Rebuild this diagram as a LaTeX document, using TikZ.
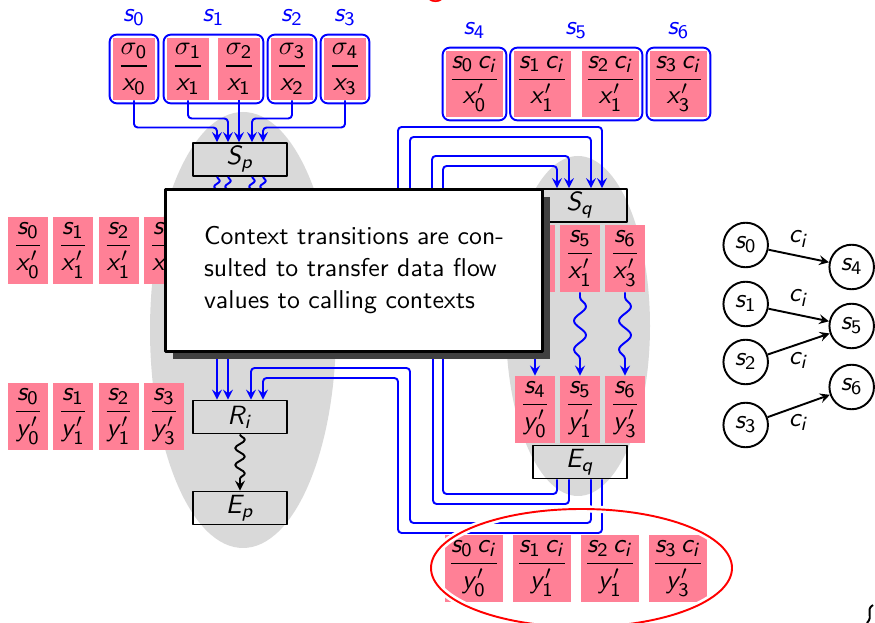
\documentclass[tikz,border=0pt]{standalone}
\usepackage{amsmath}
\usetikzlibrary{calc,fit,decorations.pathmorphing,shadows}
% sans serif math letters and digits, as on the slides
\DeclareSymbolFont{sfit}{OT1}{cmss}{m}{sl}
\DeclareSymbolFont{sfup}{OT1}{cmss}{m}{n}
\DeclareMathSymbol{c}{\mathalpha}{sfit}{`c}
\DeclareMathSymbol{i}{\mathalpha}{sfit}{`i}
\DeclareMathSymbol{p}{\mathalpha}{sfit}{`p}
\DeclareMathSymbol{q}{\mathalpha}{sfit}{`q}
\DeclareMathSymbol{s}{\mathalpha}{sfit}{`s}
\DeclareMathSymbol{x}{\mathalpha}{sfit}{`x}
\DeclareMathSymbol{y}{\mathalpha}{sfit}{`y}
\DeclareMathSymbol{E}{\mathalpha}{sfit}{`E}
\DeclareMathSymbol{R}{\mathalpha}{sfit}{`R}
\DeclareMathSymbol{S}{\mathalpha}{sfit}{`S}
\DeclareMathSymbol{0}{\mathalpha}{sfup}{`0}
\DeclareMathSymbol{1}{\mathalpha}{sfup}{`1}
\DeclareMathSymbol{2}{\mathalpha}{sfup}{`2}
\DeclareMathSymbol{3}{\mathalpha}{sfup}{`3}
\DeclareMathSymbol{4}{\mathalpha}{sfup}{`4}
\DeclareMathSymbol{5}{\mathalpha}{sfup}{`5}
\DeclareMathSymbol{6}{\mathalpha}{sfup}{`6}
\definecolor{cellpink}{RGB}{255,128,150}
\definecolor{procgray}{gray}{0.85}
\newdimen\px \px=0.4153pt
\tikzset{
  every picture/.style={line join=round, >=stealth},
  cell/.style={fill=cellpink, inner sep=0pt, minimum width=40\px, minimum height=67\px},
  tl/.style={minimum width=42\px, minimum height=62\px},
  wide/.style={minimum width=57\px, minimum height=66\px},
  grp/.style={draw=blue, line width=0.8pt, rounded corners=3pt, inner sep=1.2pt},
  lbl/.style={blue},
  wire/.style={draw=blue, thick, ->, rounded corners=1.5pt},
  squig/.style={draw=blue, thick, decorate, decoration={snake, amplitude=1.2pt, segment length=5pt}},
  blk/.style={draw, thick, minimum width=94\px, minimum height=33\px, inner sep=0pt},
  ovl/.style={draw, line width=1.2pt, fill=white, minimum width=377\px, minimum height=162\px,
    align=left, font=\sffamily\fontsize{10.7}{13.3}\selectfont,
    drop shadow={shadow xshift=3pt, shadow yshift=-3pt, fill=black!75, opacity=1}},
  st/.style={circle, draw, thick, minimum size=18.5pt, inner sep=0pt},
}
\begin{document}
\begin{tikzpicture}[x=0.4153pt,y=-0.4153pt,font=\sffamily\fontsize{11}{13}\selectfont]
\useasboundingbox (0,0) rectangle (875,623);
% procedures p and q
\fill[procgray] (243,330) ellipse [x radius=93, y radius=218];
\fill[procgray] (578,326) ellipse [x radius=72, y radius=170];
\node[red, font=\sffamily\fontsize{14.4}{17}\selectfont, anchor=base, inner sep=0pt] (ttl) at (436,-4) {g};

% values at entry of p
\node[cell,tl] (a0) at (134,69) {$\dfrac{\sigma_0}{x_0}$};
\node[cell,tl] (a1) at (188,69) {$\dfrac{\sigma_1}{x_1}$};
\node[cell,tl] (a2) at (239,69) {$\dfrac{\sigma_2}{x_1}$};
\node[cell,tl] (a3) at (292,69) {$\dfrac{\sigma_3}{x_2}$};
\node[cell,tl] (a4) at (345,69) {$\dfrac{\sigma_4}{x_3}$};
\node[grp, fit=(a0), label={[lbl]above:$s_0$}] (g0) {};
\node[grp, fit=(a1)(a2), label={[lbl]above:$s_1$}] (g1) {};
\node[grp, fit=(a3), label={[lbl]above:$s_2$}] (g2) {};
\node[grp, fit=(a4), label={[lbl]above:$s_3$}] (g3) {};

% values at entry of q
\node[cell,wide] (b0) at (474.5,84) {$\dfrac{s_0\,c_i}{x'_0}$};
\node[cell,wide] (b1) at (542,84) {$\dfrac{s_1\,c_i}{x'_1}$};
\node[cell,wide] (b2) at (610.5,84) {$\dfrac{s_2\,c_i}{x'_1}$};
\node[cell,wide] (b3) at (678.5,84) {$\dfrac{s_3\,c_i}{x'_3}$};
\node[grp, fit=(b0), label={[lbl]above:$s_4$}] (g4) {};
\node[grp, fit=(b1)(b2), label={[lbl]above:$s_5$}] (g5) {};
\node[grp, fit=(b3), label={[lbl]above:$s_6$}] (g6) {};

% nodes of p and q
\node[blk] (Sp) at (240,159.5) {$S_p$};
\coordinate (ci) at (240,250);
\node[blk] (Ri) at (240,417) {$R_i$};
\node[blk] (Ep) at (240,508) {$E_p$};
\node[blk] (Sq) at (580,205.5) {$S_q$};
\node[blk] (Eq) at (580,462) {$E_q$};

\draw[wire] (a0.south) -- ++(0,27) -| ($(Sp.north)+(-23,0)$);
\draw[wire] (a1.south) -- ++(0,18) -| ($(Sp.north)+(-12,0)$);
\draw[wire] (a2.south) -- (a2.south |- Sp.north);
\draw[wire] (a3.south) -- ++(0,18) -| ($(Sp.north)+(12,0)$);
\draw[wire] (a4.south) -- ++(0,27) -| ($(Sp.north)+(23,0)$);
\foreach \dx in {-23,-12,12,23}
  \draw[squig] ($(Sp.south)+(\dx,0)$) -- ($(ci)+(\dx,0)$);

% call to start of q
\draw[wire] (ci) -| (398,127) -| ($(Sq.north)+(22,0)$);
\draw[wire] (ci) -| (410,137) -| ($(Sq.north)+(11,0)$);
\draw[wire] (ci) -| (432,156) -| ($(Sq.north)+(-11,0)$);
\draw[wire] (ci) -| (443,166) -| ($(Sq.north)+(-23,0)$);
% end of q back to return
\draw[wire] ($(Eq.south)+(-23,0)$) |- (443,494) |- (228,345) -- ($(Ri.north)+(-12,0)$);
\draw[wire] ($(Eq.south)+(-11,0)$) |- (433,504) |- (217,338) -- ($(Ri.north)+(-23,0)$);
\draw[wire] ($(Eq.south)+(11,0)$) |- (410,523) |- (251,368) -- ($(Ri.north)+(11,0)$);
\draw[wire] ($(Eq.south)+(22,0)$) |- (398,533) |- (263,378) -- ($(Ri.north)+(23,0)$);
\draw[thick, ->, decorate, decoration={snake, amplitude=2pt, segment length=7pt, post length=4pt}] (Ri) -- (Ep);

% values at call and return
\node[cell] (c0) at (28,250.5) {$\dfrac{s_0}{x'_0}$};
\node[cell] (c1) at (73,250.5) {$\dfrac{s_1}{x'_1}$};
\node[cell] (c2) at (118.5,250.5) {$\dfrac{s_2}{x'_1}$};
\node[cell] (c3) at (164,250.5) {$\dfrac{s_3}{x'_3}$};
\node[cell] (r0) at (28,416.5) {$\dfrac{s_0}{y'_0}$};
\node[cell] (r1) at (73,416.5) {$\dfrac{s_1}{y'_1}$};
\node[cell] (r2) at (118.5,416.5) {$\dfrac{s_2}{y'_1}$};
\node[cell] (r3) at (164,416.5) {$\dfrac{s_3}{y'_3}$};

% values inside q
\node[cell] (q0) at (535,258.5) {$\dfrac{s_4}{x'_0}$};
\node[cell] (q1) at (580,258.5) {$\dfrac{s_5}{x'_1}$};
\node[cell] (q2) at (625,258.5) {$\dfrac{s_6}{x'_3}$};
\node[cell] (e0) at (535,409.5) {$\dfrac{s_4}{y'_0}$};
\node[cell] (e1) at (580,409.5) {$\dfrac{s_5}{y'_1}$};
\node[cell] (e2) at (625,409.5) {$\dfrac{s_6}{y'_3}$};
\foreach \k in {0,1,2}
  \draw[squig, ->, decoration={snake, amplitude=2.5pt, segment length=12pt, pre length=2pt, post length=6pt}] (q\k.south) -- (e\k.north);

\node[ovl] (note) at (354,270.5) {Context transitions are con-\\sulted to transfer data flow\\values to calling contexts};

% values at exit of q in calling contexts
\node[cell,wide,minimum width=58\px,minimum height=67\px] (d0) at (474,568.5) {$\dfrac{s_0\,c_i}{y'_0}$};
\node[cell,wide,minimum width=58\px,minimum height=67\px] (d1) at (542,568.5) {$\dfrac{s_1\,c_i}{y'_1}$};
\node[cell,wide,minimum width=58\px,minimum height=67\px] (d2) at (610,568.5) {$\dfrac{s_2\,c_i}{y'_1}$};
\node[cell,wide,minimum width=58\px,minimum height=67\px] (d3) at (678,568.5) {$\dfrac{s_3\,c_i}{y'_3}$};
\draw[red, thick, preaction={draw=white, line width=3pt}] (581.5,568) ellipse [x radius=150.5, y radius=59];

% context transitions
\node[st] (n0) at (745.7,245) {$s_0$};
\node[st] (n1) at (745.7,304) {$s_1$};
\node[st] (n2) at (745.7,362) {$s_2$};
\node[st] (n3) at (745.7,425) {$s_3$};
\node[st] (n4) at (851.7,267) {$s_4$};
\node[st] (n5) at (851.7,326) {$s_5$};
\node[st] (n6) at (851.7,387) {$s_6$};
\draw[thick,->] (n0) -- node[above] {$c_i$} (n4);
\draw[thick,->] (n1) -- node[above] {$c_i$} (n5);
\draw[thick,->] (n2) -- node[below] {$c_i$} (n5);
\draw[thick,->] (n3) -- node[below] {$c_i$} (n6);
\draw[thick] (873,605) .. controls (865,610) and (874,616) .. (867,623);
\end{tikzpicture}
\end{document}
